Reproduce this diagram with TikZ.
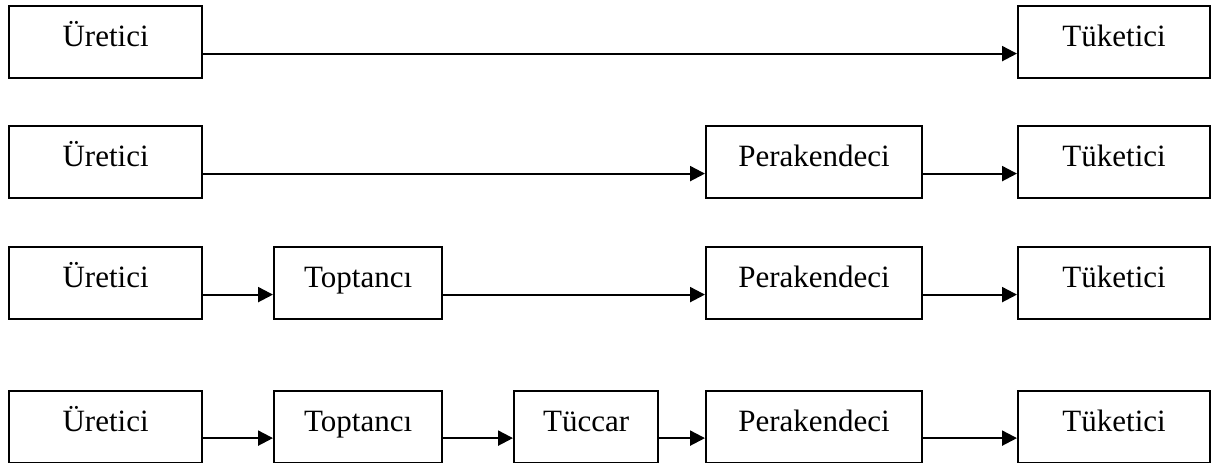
\documentclass[tikz,border=0pt]{standalone}
\usepackage{fontspec}
\setmainfont{Liberation Serif}
\usetikzlibrary{arrows.meta}
\begin{document}
\begin{tikzpicture}[x=1pt,y=-1pt,
  box/.style={draw=black, line width=2.2pt, anchor=north west, inner sep=0pt,
    text height=40.5pt, text depth=31.5pt, align=center,
    font=\fontsize{31}{37}\selectfont},
  flow/.style={line width=2.2pt, -{Triangle[length=15pt,width=15pt]}}]
\useasboundingbox (0,0) rectangle (1211,463);
% row 1: producer -> consumer
\node[box, minimum width=193pt] (u1) at (8,5) {Üretici};
\node[box, minimum width=192pt] (t1) at (1017,5) {Tüketici};
\draw[flow] ([yshift=-11.5pt]u1.east) -- ([yshift=-11.5pt]t1.west);
% row 2: producer -> retailer -> consumer
\node[box, minimum width=193pt] (u2) at (8,125) {Üretici};
\node[box, minimum width=216pt] (p2) at (705,125) {Perakendeci};
\node[box, minimum width=192pt] (t2) at (1017,125) {Tüketici};
\draw[flow] ([yshift=-11.5pt]u2.east) -- ([yshift=-11.5pt]p2.west);
\draw[flow] ([yshift=-11.5pt]p2.east) -- ([yshift=-11.5pt]t2.west);
% row 3: producer -> wholesaler -> retailer -> consumer
\node[box, minimum width=193pt] (u3) at (8,246) {Üretici};
\node[box, minimum width=168pt] (w3) at (273,246) {Toptancı};
\node[box, minimum width=216pt] (p3) at (705,246) {Perakendeci};
\node[box, minimum width=192pt] (t3) at (1017,246) {Tüketici};
\draw[flow] ([yshift=-11.5pt]u3.east) -- ([yshift=-11.5pt]w3.west);
\draw[flow] ([yshift=-11.5pt]w3.east) -- ([yshift=-11.5pt]p3.west);
\draw[flow] ([yshift=-11.5pt]p3.east) -- ([yshift=-11.5pt]t3.west);
% row 4: producer -> wholesaler -> merchant -> retailer -> consumer
\node[box, minimum width=193pt] (u4) at (8,389.5) {Üretici};
\node[box, minimum width=168pt] (w4) at (273,389.5) {Toptancı};
\node[box, minimum width=144pt] (m4) at (513,389.5) {Tüccar};
\node[box, minimum width=216pt] (p4) at (705,389.5) {Perakendeci};
\node[box, minimum width=192pt] (t4) at (1017,389.5) {Tüketici};
\draw[flow] ([yshift=-11.5pt]u4.east) -- ([yshift=-11.5pt]w4.west);
\draw[flow] ([yshift=-11.5pt]w4.east) -- ([yshift=-11.5pt]m4.west);
\draw[flow] ([yshift=-11.5pt]m4.east) -- ([yshift=-11.5pt]p4.west);
\draw[flow] ([yshift=-11.5pt]p4.east) -- ([yshift=-11.5pt]t4.west);
\end{tikzpicture}
\end{document}
